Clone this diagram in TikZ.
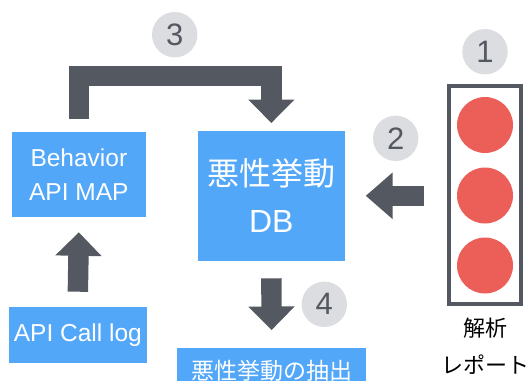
\documentclass[tikz,border=0pt]{standalone}
\usepackage{fontspec}
\setmainfont{Liberation Sans}
\newfontfamily\cjk{Noto Sans CJK JP}
\usetikzlibrary{arrows.meta,calc}
\definecolor{bluebox}{HTML}{52A7F9}
\definecolor{darkg}{HTML}{545860}
\definecolor{circg}{HTML}{DCDDE0}
\definecolor{redc}{HTML}{EC5E58}
\begin{document}
\begin{tikzpicture}[x=1pt,y=-1pt,
  box/.style={fill=bluebox, text=white, inner sep=0pt, outer sep=0pt, align=center},
  num/.style={circle, fill=circg, text=darkg, minimum size=45.4pt, inner sep=0pt,
    font=\fontsize{31}{31}\selectfont},
  bigarrow/.style={draw=darkg, line width=20.4pt, line join=miter,
    -{Triangle[width=45pt,length=23.5pt]}},
  bigarrowb/.style={draw=darkg, line width=20.4pt,
    -{Triangle[width=45pt,length=27pt]}},
  dot/.style={circle, fill=redc, minimum size=56pt, inner sep=0pt}]
\useasboundingbox (0,0) rectangle (529,380);
\clip (0,0) rectangle (529,380);

% boxes
\node[box, minimum width=134.3pt, minimum height=85pt,
  font=\fontsize{24.5}{33.4}\selectfont] (bam) at (78.85,174.8) {Behavior\\API MAP};
\node[box, minimum width=147.3pt, minimum height=129.7pt,
  font=\fontsize{32}{46.7}\selectfont] (db) at (271.35,195.85) {{\cjk 悪性挙動}\\DB};
\node[box, minimum width=137.7pt, minimum height=56pt,
  font=\fontsize{24.5}{26}\selectfont] (api) at (77.85,335.3) {API Call log};
\node[box, minimum width=188.7pt, minimum height=46pt,
  font=\fontsize{23}{25}\selectfont] (ext) at (271.65,371.3) {\cjk 悪性挙動の抽出};

% report
\node[draw=darkg, line width=4pt, minimum width=72.6pt, minimum height=218pt,
  inner sep=0pt] (rep) at (485,195) {};
\node[dot] (r1) at (485,125) {};
\node[dot] (r2) at (485,195.5) {};
\node[dot] (r3) at (485,265.5) {};
\node[text=black, align=center, font=\cjk\fontsize{22}{37}\selectfont] (replbl)
  at (485,346.5) {解析\\レポート};

% number badges
\node[num] (n1) at (485,51.7) {1};
\node[num] (n2) at (395.7,138.3) {2};
\node[num] (n3) at (174.7,34.7) {3};
\node[num] (n4) at (324.3,304.3) {4};

% arrows
\coordinate (s3) at ($(bam.north)+(0,-13.3)$);
\coordinate (t3) at (175,76.25);
\coordinate (e3) at ($(db.north)+(0,-8)$);
\draw[bigarrow] (s3) |- (t3) -| (e3);

\draw[bigarrowb] ($(rep.west)+(-23,0.8)$) -- ($(db.east |- rep.west)+(20.7,0.8)$);
\draw[bigarrow] ($(api.north)+(0,-15.6)$) -- ($(bam.south)+(0,15)$);
\draw[bigarrow] ($(db.south)+(0,17.6)$) -- ($(ext.north)+(0,-18.3)$);
\end{tikzpicture}
\end{document}
